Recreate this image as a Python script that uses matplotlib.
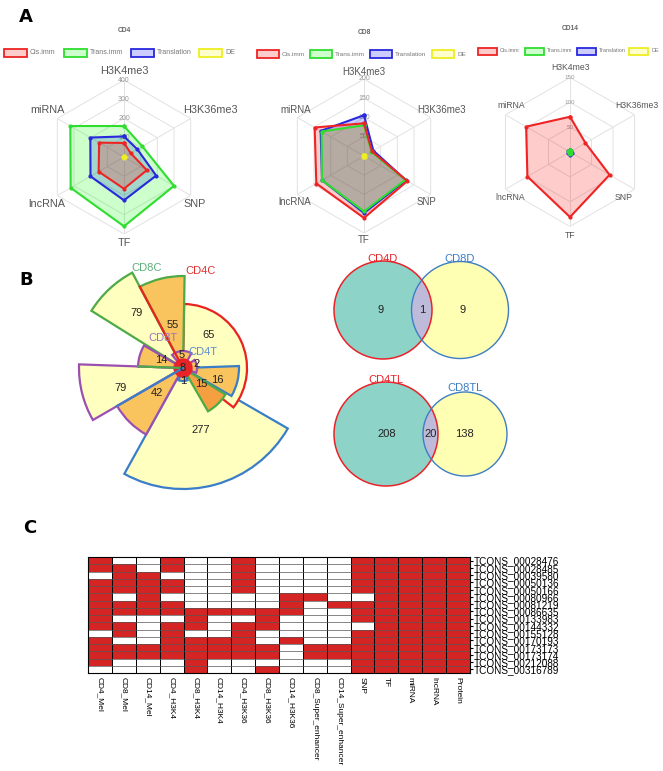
import numpy as np
import matplotlib
matplotlib.use("Agg")
import matplotlib.pyplot as plt
from matplotlib.patches import Rectangle, Circle
from matplotlib.colors import ListedColormap

plt.rcParams['font.family'] = ['Liberation Sans', 'DejaVu Sans']

W, H = 663, 771

# ---------------- panel A data ----------------
radar_axes = ['H3K4me3', 'H3K36me3', 'SNP', 'TF', 'lncRNA', 'miRNA']
series = ['Cis.imm', 'Trans.imm', 'Translation', 'DE']

cd4_cis = [73, 40, 137, 165, 152, 149]
cd4_trans = [161, 110, 300, 360, 320, 322]
cd4_transl = [107, 80, 193, 225, 201, 202]
cd4_de = [4, 3, 4, 4, 4, 4]

cd8_cis = [85, 24, 130, 161, 143, 148]
cd8_trans = [80, 22, 124, 144, 126, 127]
cd8_transl = [106, 28, 126, 148, 126, 130]
cd8_de = [3, 3, 3, 3, 3, 3]

cd14_cis = [71, 36, 92, 131, 99, 102]
cd14_trans = [4, 3, 3, 4, 3, 4]
cd14_transl = [5, 3, 5, 6, 4, 5]
cd14_de = [2, 2, 2, 2, 2, 2]

# ---------------- panel B data ----------------
petal_counts = [277, 79, 79, 65, 42, 55, 14, 16, 15, 5, 2, 1]
center_count = 8
flower_sets = ['CD8C', 'CD4C', 'CD8T', 'CD4T']

venn_top_sets = ['CD4D', 'CD8D']
venn_top_counts = [9, 1, 9]
venn_bot_sets = ['CD4TL', 'CD8TL']
venn_bot_counts = [208, 20, 138]

# ---------------- panel C data ----------------
heat_cols = ['CD4_Mel', 'CD8_Mel', 'CD14_Mel', 'CD4_H3K4', 'CD8_H3K4', 'CD14_H3K4',
             'CD4_H3K36', 'CD8_H3K36', 'CD14_H3K36', 'CD8_Super_enhancer',
             'CD14_Super_enhancer', 'SNP', 'TF', 'miRNA', 'lncRNA', 'Protein']
heat_rows = ['TCONS_00028476', 'TCONS_00028485', 'TCONS_00039580', 'TCONS_00050136',
             'TCONS_00050166', 'TCONS_00080966', 'TCONS_00081219', 'TCONS_00086635',
             'TCONS_00133983', 'TCONS_00144332', 'TCONS_00155128', 'TCONS_00170193',
             'TCONS_00173173', 'TCONS_00173174', 'TCONS_00212088', 'TCONS_00316789']
heat = np.array([
    [1, 0, 0, 1, 0, 0, 1, 0, 0, 0, 0, 1, 1, 1, 1, 1],
    [1, 1, 0, 1, 0, 0, 1, 0, 0, 0, 0, 1, 1, 1, 1, 1],
    [0, 1, 1, 0, 0, 0, 1, 0, 0, 0, 0, 1, 1, 1, 1, 1],
    [1, 1, 1, 1, 0, 0, 1, 0, 0, 0, 0, 1, 1, 1, 1, 1],
    [1, 1, 1, 1, 0, 0, 1, 0, 0, 0, 0, 1, 1, 1, 1, 1],
    [1, 0, 1, 0, 0, 0, 0, 0, 1, 1, 0, 0, 1, 1, 1, 1],
    [1, 1, 1, 1, 0, 0, 0, 0, 1, 0, 1, 1, 1, 1, 1, 1],
    [1, 1, 1, 1, 1, 1, 1, 1, 1, 0, 0, 1, 1, 1, 1, 1],
    [1, 0, 0, 0, 1, 0, 0, 1, 0, 0, 0, 1, 1, 1, 1, 1],
    [1, 1, 0, 1, 1, 0, 1, 1, 0, 0, 0, 0, 1, 1, 1, 1],
    [0, 1, 0, 1, 0, 0, 1, 0, 0, 0, 0, 1, 1, 1, 1, 1],
    [1, 0, 0, 1, 1, 1, 1, 0, 1, 0, 0, 1, 1, 1, 1, 1],
    [1, 1, 1, 1, 1, 1, 1, 1, 0, 1, 1, 1, 1, 1, 1, 1],
    [1, 1, 1, 1, 1, 1, 1, 1, 0, 1, 1, 1, 1, 1, 1, 1],
    [1, 0, 0, 0, 1, 0, 0, 0, 0, 0, 0, 1, 1, 1, 1, 1],
    [0, 0, 0, 0, 1, 0, 0, 1, 0, 0, 0, 1, 1, 1, 1, 1],
])

fig = plt.figure(figsize=(W / 100, H / 100), dpi=100)


def box(x0, y0, w, h):
    return [x0 / W, 1 - (y0 + h) / H, w / W, h / H]


def fxy(x, y):
    return x / W, 1 - y / H


# panel letters
for letter, (x, y) in zip('ABC', [(26, 17), (26, 280), (30, 528)]):
    fig.text(*fxy(x, y), letter, fontsize=13, fontweight='bold', ha='center', va='center',
             family='DejaVu Sans')

# ---------------- A: radar charts ----------------
line_cols = ['#EE2424', '#2FDD2F', '#2828DD', '#EEEE22']
fill_cols = ['#FF0000', '#00FF00', '#0000FF', '#FFFF00']


def radar(cx, cy, rad, rmax, ticks, data, fs, tick_fs, hx, vs, vt):
    ax = fig.add_axes(box(cx - rad, cy - rad, 2 * rad, 2 * rad), projection='polar')
    ax.set_theta_zero_location('N')
    ax.set_theta_direction(-1)
    ax.set_ylim(0, rmax)
    ax.set_xticks([])
    ax.set_yticks([])
    ax.grid(False)
    ax.spines['polar'].set_visible(False)
    ax.patch.set_visible(False)
    th = np.deg2rad(np.arange(0, 360, 60))
    thc = np.append(th, th[0])
    for t in ticks:
        ax.plot(thc, [t] * 7, color='#e2e2e2', lw=0.7, zorder=1)
    for a in th:
        ax.plot([a, a], [0, rmax], color='#e2e2e2', lw=0.7, zorder=1)
    for t in ticks:
        ax.text(0, t, str(t), ha='center', va='center', fontsize=tick_fs, color='#999999', zorder=2)
    for i in [3, 2, 1, 0]:
        v = np.append(data[i], data[i][0])
        ax.fill(thc, v, color=fill_cols[i], alpha=0.2, lw=0, zorder=3)
        ax.plot(thc, v, color=line_cols[i], lw=1.5, marker='o', ms=2, zorder=4)
    kw = dict(fontsize=fs, color='#555555', va='center')
    fig.text(*fxy(cx, cy - vt), radar_axes[0], ha='center', **kw)
    fig.text(*fxy(cx + hx, cy - vs), radar_axes[1], ha='left', **kw)
    fig.text(*fxy(cx + hx, cy + vs), radar_axes[2], ha='left', **kw)
    fig.text(*fxy(cx, cy + vt), radar_axes[3], ha='center', **kw)
    fig.text(*fxy(cx - hx, cy + vs), radar_axes[4], ha='right', **kw)
    fig.text(*fxy(cx - hx, cy - vs), radar_axes[5], ha='right', **kw)


def legend(xs, y, bw, bh, fs):
    for x, name, lc, fc in zip(xs, series, line_cols, fill_cols):
        fig.add_artist(Rectangle((x / W, 1 - (y + bh / 2) / H), bw / W, bh / H,
                                 transform=fig.transFigure, facecolor=fc, alpha=0.2, lw=0))
        fig.add_artist(Rectangle((x / W, 1 - (y + bh / 2) / H), bw / W, bh / H,
                                 transform=fig.transFigure, facecolor='none',
                                 edgecolor=lc, lw=1.3))
        fig.text(*fxy(x + bw + 3, y), name, fontsize=fs, color='#777777', va='center', ha='left')


radar(124, 157, 77, 400, [100, 200, 300, 400],
      [cd4_cis, cd4_trans, cd4_transl, cd4_de], 7.8, 5, 59, 47, 86)
radar(364, 156, 77, 200, [50, 100, 150, 200],
      [cd8_cis, cd8_trans, cd8_transl, cd8_de], 7.0, 5, 53, 46, 84)
radar(570, 152, 74.5, 150, [50, 100, 150],
      [cd14_cis, cd14_trans, cd14_transl, cd14_de], 6.2, 4.5, 45, 46, 84)

for title, (x, y) in zip(['CD4', 'CD8', 'CD14'], [(124, 31), (364, 32), (570, 29)]):
    fig.text(*fxy(x, y), title, fontsize=4.8, fontweight='bold', color='#666666',
             ha='center', va='center')

legend([4, 64, 131, 199], 53, 23, 8, 5)
legend([257, 310, 370, 432], 54, 22, 8, 4.6)
legend([478, 525, 577, 629], 51, 19, 7, 4)

# ---------------- B: flower diagram ----------------
YEL, ORA, ORA2, CRED = '#FFFFBF', '#F9C35E', '#F5A040', '#E8232A'
GRN, RED, PUR, BLU = '#4DAA46', '#E8231F', '#9B4FB0', '#3A7EC8'

# start deg, end deg, radius, face, edge, label deg, label r
petal_layout = [
    (120, 209, 121, YEL, BLU, 164, 65),
    (240, 272, 104, YEL, PUR, 252, 66),
    (302, 332, 108, YEL, GRN, 320, 72),
    (1, 128, 64, YEL, RED, 38, 42),
    (209, 240, 76, ORA, PUR, 226, 36),
    (332, 361, 92, ORA, GRN, 347, 44),
    (272, 300, 45, ORA, PUR, 290, 23),
    (88, 120, 56, ORA, BLU, 109, 36),
    (122, 150, 50, ORA2, GRN, 132, 24),
    (320, 390, 17, ORA, PUR, 352, 13),
    (55, 110, 14, ORA, PUR, 73, 14),
    (160, 200, 13, ORA, BLU, 180, 13),
]
extra_edges = [(332, 92, RED), (272, 45, GRN), (240, 76, BLU)]

axb = fig.add_axes(box(183 - 125, 368 - 125, 250, 250), projection='polar')
axb.set_theta_zero_location('N')
axb.set_theta_direction(-1)
axb.set_ylim(0, 125)
axb.set_xticks([])
axb.set_yticks([])
axb.grid(False)
axb.spines['polar'].set_visible(False)
axb.patch.set_visible(False)
for n, (a0, a1, r, fc, ec, la, lr) in zip(petal_counts, petal_layout):
    axb.bar(np.deg2rad((a0 + a1) / 2), r, width=np.deg2rad(a1 - a0), bottom=0,
            color=fc, edgecolor=ec, linewidth=1.6)
for a, r, c in extra_edges:
    axb.plot([np.deg2rad(a)] * 2, [0, r], color=c, lw=1.6)
axb.bar(0, 9, width=2 * np.pi, bottom=0, color=CRED, edgecolor=CRED, linewidth=1)
for n, (a0, a1, r, fc, ec, la, lr) in zip(petal_counts, petal_layout):
    axb.text(np.deg2rad(la), lr, str(n), fontsize=8, ha='center', va='center', color='#222222')
axb.text(0, 0, str(center_count), fontsize=8, ha='center', va='center', color='#222222')
for name, (a, r), c in zip(flower_sets, [(340, 106), (10.5, 99), (326, 36), (51, 26)],
                           ['#5BAE7A', '#E0312F', '#A070C0', '#5B8FD0']):
    axb.text(np.deg2rad(a), r, name, fontsize=8, ha='center', va='center', color=c)

# ---------------- B: Venn diagrams ----------------
axv = fig.add_axes(box(320, 250, 210, 240))
axv.set_xlim(320, 530)
axv.set_ylim(490, 250)
axv.axis('off')


def venn(c1, r1, c2, r2, names, counts, label_y):
    a = Circle(c1, r1, facecolor='#8DD3C7', edgecolor='none')
    b = Circle(c2, r2, facecolor='#FFFFB3', edgecolor='none')
    axv.add_patch(a)
    axv.add_patch(b)
    inter = Circle(c1, r1, facecolor='#BEBADA', edgecolor='none')
    axv.add_patch(inter)
    inter.set_clip_path(b)
    axv.add_patch(Circle(c1, r1, facecolor='none', edgecolor='#E8232A', lw=1.1))
    axv.add_patch(Circle(c2, r2, facecolor='none', edgecolor='#3C7DC4', lw=1.0))
    left_x = (c1[0] - r1 + c2[0] - r2) / 2 + 8
    mid_x = (c2[0] - r2 + c1[0] + r1) / 2
    right_x = (c1[0] + r1 + c2[0] + r2) / 2 - 8
    for x, n in zip([left_x, mid_x, right_x], counts):
        axv.text(x, c1[1], str(n), fontsize=8, ha='center', va='center', color='#222222')
    axv.text(c1[0], label_y[0], names[0], fontsize=8, ha='center', va='center', color='#E8232A')
    axv.text(c2[0], label_y[1], names[1], fontsize=8, ha='center', va='center', color='#3C7DC4')


venn((383, 310), 49, (460, 310), 48.5, venn_top_sets, venn_top_counts, (259, 259))
venn((386, 434), 52, (465, 434), 42, venn_bot_sets, venn_bot_counts, (380, 388))

# ---------------- C: heatmap ----------------
axh = fig.add_axes(box(88, 557, 382, 116))
nr, nc = heat.shape
axh.pcolormesh(np.arange(nc + 1) - 0.5, np.arange(nr + 1) - 0.5, heat,
               cmap=ListedColormap(['white', '#D42424']), vmin=0, vmax=1)
axh.set_xlim(-0.5, nc - 0.5)
axh.set_ylim(nr - 0.5, -0.5)
for j in range(nc + 1):
    axh.axvline(j - 0.5, color='black', lw=0.7)
for i in range(nr + 1):
    axh.axhline(i - 0.5, color='#555555', lw=0.5)
axh.set_xticks(range(nc))
axh.set_xticklabels(heat_cols, rotation=270, fontsize=6)
axh.set_yticks(range(nr))
axh.set_yticklabels(heat_rows, fontsize=7.2)
axh.yaxis.tick_right()
axh.tick_params(axis='x', length=0, pad=3)
axh.tick_params(axis='y', length=2, pad=1)
for s in axh.spines.values():
    s.set_linewidth(0.8)

fig.savefig('out.png', dpi=100)
